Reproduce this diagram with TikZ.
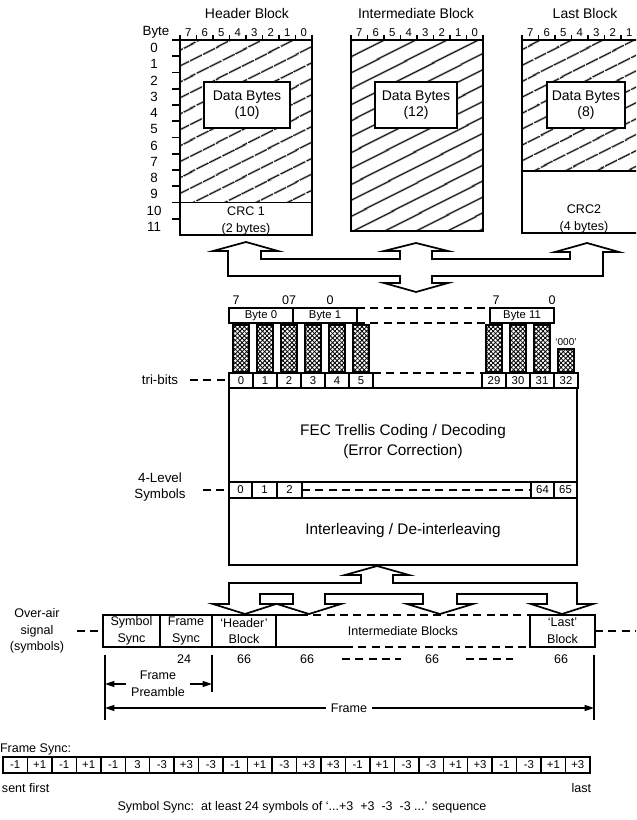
\documentclass[tikz,border=0pt]{standalone}
\usepackage{fontspec}
\setmainfont{Liberation Sans}
\usetikzlibrary{arrows.meta,patterns,patterns.meta}
\newcommand\xcol[4]{%
  \path[pattern={Lines[angle=45,distance=2.4pt,line width=0.65pt]}] (#1,#2) rectangle (#3,#4);
  \path[pattern={Lines[angle=-45,distance=2.4pt,line width=0.65pt]}] (#1,#2) rectangle (#3,#4);
  \draw[line width=0.9pt] (#1,#2) rectangle (#3,#4);}
\begin{document}
\begin{tikzpicture}[x=0.75pt,y=-0.75pt,
  every node/.style={inner sep=0pt,outer sep=0pt},
  ln/.style={line width=1.3pt},
  tln/.style={line width=0.9pt},
  tT/.style={font=\fontsize{10.5}{12}\selectfont},
  tA/.style={font=\fontsize{10}{12}\selectfont},
  tB/.style={font=\fontsize{9.4}{12.5}\selectfont},
  tC/.style={font=\fontsize{8.5}{10}\selectfont},
  tD/.style={font=\fontsize{7.5}{8}\selectfont},
  tBig/.style={font=\fontsize{11.5}{15}\selectfont},
  hatchA/.style={pattern={Lines[angle=27,distance=10.5pt,line width=1.2pt]}},
  dsh/.style={line width=1pt,dash pattern=on 6pt off 4pt},
  tip/.style={-{Triangle[length=7pt,width=4.5pt]},line width=1pt}
]
\useasboundingbox (0,0) rectangle (636,820);
\begin{scope}
\clip (0,0) rectangle (636,820);

%================ top blocks =================
\node[tT] (tHead) at (247,13) {Header Block};
\node[tT] (tInt) at (416,13) {Intermediate Block};
\node[tT] (tLast) at (585,13) {Last Block};
\node[tA] (byte) at (156,32) {Byte};

% header block
\path[hatchA] (180,40) rectangle (312,202.5);
\draw[ln] (180,40) rectangle (312,235);
\draw[ln] (180,202.5) -- (312,202.5);
\foreach \k in {0,...,11} {
  \draw[ln] (172,40+16.25*\k) -- (180,40+16.25*\k);
  \node[tA] at (154,48.1+16.25*\k) {\k};
}
\draw[ln,fill=white] (204,82) rectangle (290,128);
\node[tT,align=center] (d10) at (247,105) {Data Bytes\\(10)};
\node[tB,align=center] (crc1) at (246,221) {CRC 1\\(2 bytes)};

% intermediate block
\path[hatchA] (351,40) rectangle (483,231);
\draw[ln] (351,40) rectangle (483,231);
\draw[ln,fill=white] (375,82) rectangle (457,128);
\node[tT,align=center] (d12) at (416,105) {Data Bytes\\(12)};

% last block
\path[hatchA] (522,40) rectangle (654,171);
\draw[ln] (522,40) rectangle (654,233);
\draw[ln] (522,171) -- (654,171);
\draw[ln,fill=white] (547,82) rectangle (625,128);
\node[tT,align=center] (d8) at (586,105) {Data Bytes\\(8)};
\node[tB,align=center] (crc2) at (584,219) {CRC2\\(4 bytes)};

% bit labels on top of each block
\foreach \xo in {180,351} {
  \foreach \b [count=\i from 0] in {7,6,5,4,3,2,1,0} {
    \node[tC] at (\xo+16.5*\i+8.25,33) {\b};
  }
  \foreach \i in {0,...,8} \draw[tln] (\xo+16.5*\i,35) -- (\xo+16.5*\i,40);
}
\foreach \b [count=\i from 0] in {7,6,5,4,3,2,1} {
  \node[tC] at (522+16.5*\i+8.25,33) {\b};
}
\foreach \i in {0,...,7} \draw[tln] (522+16.5*\i,35) -- (522+16.5*\i,40);

%================ upper arrow tree =================
\draw[ln,fill=white,line join=miter]
  (228,276) -- (228,251) -- (213,251) -- (246,242) -- (278,251) -- (261,251)
  -- (261,259) -- (400,259) -- (400,251) -- (384,251) -- (416,243) -- (448,251)
  -- (432,251) -- (432,259) -- (570,259) -- (570,252) -- (555,252) -- (587,243)
  -- (619,252) -- (603,252) -- (603,276) -- (432,276) -- (432,283) -- (448,283)
  -- (416,292) -- (384,283) -- (400,283) -- (400,276) -- cycle;

%================ bytes / tri-bits =================
\node[tB] at (236,300) {7};
\node[tB] at (289,300) {07};
\node[tB] at (330,300) {0};
\node[tB] at (496,300) {7};
\node[tB] at (552,300) {0};

\draw[ln] (229,308) rectangle (293,323);
\node[tC] (by0) at (261,315.5) {Byte 0};
\draw[ln] (293,308) rectangle (357,323);
\node[tC] (by1) at (325,315.5) {Byte 1};
\draw[ln] (490,308) rectangle (554,323);
\node[tC] (by11) at (522,315.5) {Byte 11};
\draw[dsh] (357,308) -- (490,308);
\draw[dsh] (357,323) -- (490,323);

\foreach \k in {0,...,5} \xcol{233+24*\k}{325}{249+24*\k}{372};
\foreach \xa in {486,510,534} \xcol{\xa}{325}{\xa+16}{372};
\xcol{558}{349}{574}{372}
\node[tD] (pad) at (566,342) {`000'};

\foreach \k in {0,...,5} {
  \draw[ln] (229+24*\k,373) rectangle (253+24*\k,388);
  \node[tC] at (241+24*\k,380.5) {\k};
}
\foreach \n [count=\i from 0] in {29,30,31,32} {
  \draw[ln] (482+24*\i,373) rectangle (506+24*\i,388);
  \node[tC] at (494+24*\i,380.5) {\n};
}
\draw[dsh] (373,373) -- (482,373);
\node[tA] (tri) at (160,380) {tri-bits};
\draw[dsh] (190,380) -- (229,380);

%================ FEC and interleaving =================
\draw[ln] (229,388) -- (229,565) -- (577,565) -- (577,388);
\draw[ln] (229,388) -- (577,388);
\draw[ln] (229,482) -- (577,482);
\draw[ln] (229,498) -- (577,498);
\node[tBig,align=center] (fec) at (403,442) {FEC Trellis Coding / Decoding\\(Error Correction)};
\node[tBig] (intl) at (403,531) {Interleaving / De-interleaving};

\foreach \xa in {252,277,302,531,554} \draw[ln] (\xa,482) -- (\xa,498);
\node[tC] at (240.5,490) {0};
\node[tC] at (264.5,490) {1};
\node[tC] at (289.5,490) {2};
\node[tC] at (542.5,490) {64};
\node[tC] at (565.5,490) {65};
\draw[dsh] (302,490) -- (531,490);
\node[tA,align=center] (lev) at (160,487) {4-Level\\Symbols};
\draw[dsh] (203,490) -- (229,490);

%================ lower arrow tree =================
\draw[ln,fill=white,line join=miter]
  (377,566) -- (409,575) -- (393,575) -- (393,583) -- (577,583) -- (577,604)
  -- (593,604) -- (562,614) -- (531,604) -- (547,604) -- (547,594) -- (457,594)
  -- (457,604) -- (473,604) -- (440,614) -- (407,604) -- (423,604) -- (423,594)
  -- (325,594) -- (325,604) -- (341,604) -- (309,614) -- (277,604) -- (293,604)
  -- (293,594) -- (260,594) -- (260,604) -- (276,604) -- (245,614) -- (213,604)
  -- (229,604) -- (229,583) -- (361,583) -- (361,575) -- (345,575) -- cycle;

%================ over-air row =================
\node[tB,align=center] (oa) at (37,631) {Over-air\\signal\\(symbols)};
\draw[dsh] (77,631) -- (103,631);
\draw[ln] (276,615) -- (103,615) -- (103,647) -- (276,647);
\foreach \xa in {160,212,276} \draw[ln] (\xa,615) -- (\xa,647);
\node[tB,align=center] (ss) at (131.5,631) {Symbol\\Sync};
\node[tB,align=center] (fs) at (186,631) {Frame\\Sync};
\node[tB,align=center] (hb) at (244,631) {`Header'\\Block};
\draw[ln] (276,615) -- (300,615);
\draw[dsh] (300,615) -- (530,615);
\draw[ln] (276,647) -- (345,647);
\draw[dsh] (345,647) -- (530,647);
\node[tB] (ib) at (403,631) {Intermediate Blocks};
\draw[line width=1.8pt] (530,615) rectangle (595,647);
\node[tB,align=center] (lb) at (562.5,631) {`Last'\\Block};
\draw[dsh] (595,631) -- (636,631);

\node[tB] at (184,659) {24};
\node[tB] at (244,659) {66};
\node[tB] at (307,659) {66};
\draw[dsh] (342,659) -- (401,659);
\node[tB] at (432,659) {66};
\draw[dsh] (466,659) -- (513,659);
\node[tB] at (561,659) {66};

%================ frame preamble / frame =================
\coordinate (vl1) at (105,655);
\coordinate (vl1b) at (105,720);
\coordinate (vl2) at (212,655);
\coordinate (vl2b) at (212,692);
\coordinate (vl3) at (594,655);
\coordinate (vl3b) at (594,720);
\draw[ln] (vl1) -- (vl1b);
\draw[ln] (vl2) -- (vl2b);
\draw[ln] (vl3) -- (vl3b);
\node[tB,align=center] (pre) at (158,684) {Frame\\Preamble};
\coordinate (pa1) at (105,684);
\coordinate (pa1s) at (126,684);
\coordinate (pa2) at (212,684);
\coordinate (pa2s) at (190,684);
\draw[tip] (pa1s) -- (pa1);
\draw[tip] (pa2s) -- (pa2);
\node[tB] (frm) at (349,708) {Frame};
\coordinate (fa1) at (105,708);
\coordinate (fa2) at (594,708);
\draw[tip] ([xshift=-4pt]frm.west) -- (fa1);
\draw[tip] ([xshift=4pt]frm.east) -- (fa2);

%================ frame sync =================
\node[tB,anchor=west] (fsl) at (0,749) {Frame Sync:};
\foreach \v [count=\i from 0] in {-1,+1,-1,+1,-1,3,-3,+3,-3,-1,+1,-3,+3,+3,-1,+1,-3,-3,+1,+3,-1,-3,+1,+3} {
  \draw[line width=1.1pt] (3+24.46*\i,757) rectangle (27.46+24.46*\i,773);
  \node[tC] at (15.23+24.46*\i,765) {\v};
}
\node[tB,anchor=west] (sf) at (2,788) {sent first};
\node[tB,anchor=east] (lst) at (591,788) {last};
\node[tB] (ssn) at (302,807) {Symbol Sync:\ \ at least 24 symbols of `...+3\ \ +3\ \ -3\ \ -3 ...' sequence};
\end{scope}
\end{tikzpicture}
\end{document}
